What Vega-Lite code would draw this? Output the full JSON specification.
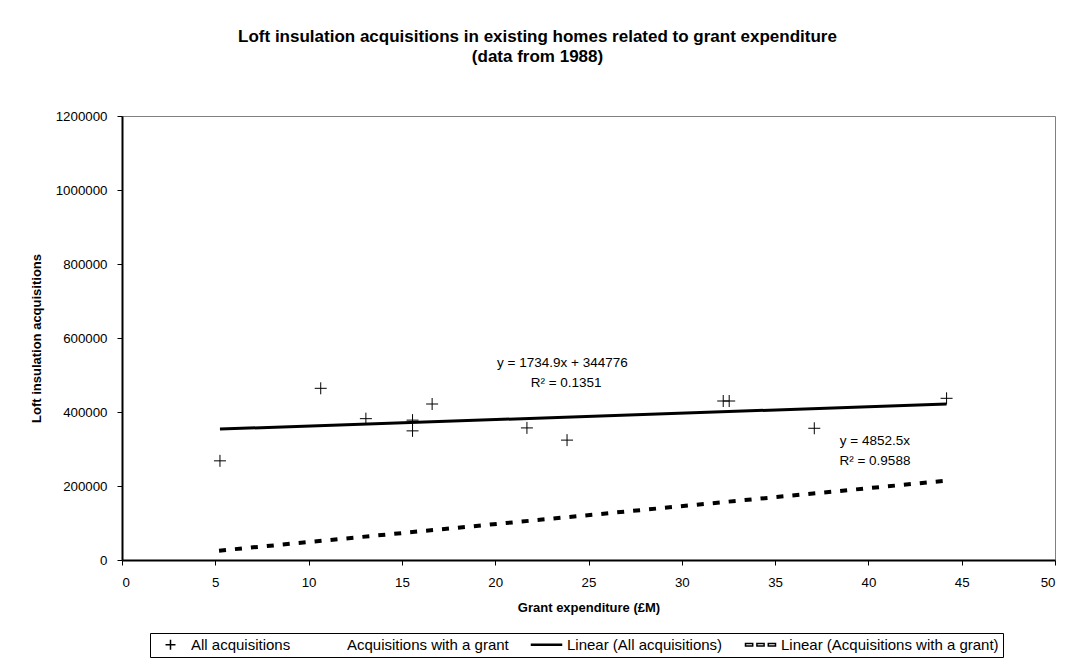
{
  "$schema": "https://vega.github.io/schema/vega-lite/v6.json",
  "width": 933,
  "height": 444,
  "autosize": {"type": "none"},
  "padding": {"left": 122, "top": 116, "right": 18, "bottom": 108},
  "background": "white",
  "config": {
    "font": "Liberation Sans",
    "view": {"stroke": "#808080", "strokeWidth": 1},
    "axis": {
      "domainColor": "black", "domainWidth": 2,
      "tickColor": "black", "tickWidth": 1, "tickSize": 5,
      "labelColor": "black", "labelFontSize": 13.3, "labelFont": "Liberation Sans",
      "titleColor": "black", "titleFontSize": 13, "titleFont": "Liberation Sans", "titleFontWeight": "bold",
      "grid": false
    }
  },
  "title": {
    "text": ["Loft insulation acquisitions in existing homes related to grant expenditure", "(data from 1988)"],
    "fontSize": 17, "fontWeight": "bold", "font": "Liberation Sans", "color": "black",
    "anchor": "middle", "frame": "group", "dx": -51, "offset": 43, "lineHeight": 20
  },
  "datasets": {
    "pts": [
      {"grant": 5.25, "acq": 268000, "series": "All acquisitions"},
      {"grant": 10.65, "acq": 464000, "series": "All acquisitions"},
      {"grant": 13.07, "acq": 382000, "series": "All acquisitions"},
      {"grant": 15.57, "acq": 378000, "series": "All acquisitions"},
      {"grant": 15.57, "acq": 349000, "series": "All acquisitions"},
      {"grant": 16.62, "acq": 421600, "series": "All acquisitions"},
      {"grant": 21.7, "acq": 357000, "series": "All acquisitions"},
      {"grant": 23.85, "acq": 324000, "series": "All acquisitions"},
      {"grant": 32.22, "acq": 429700, "series": "All acquisitions"},
      {"grant": 32.54, "acq": 429700, "series": "All acquisitions"},
      {"grant": 37.1, "acq": 356000, "series": "All acquisitions"},
      {"grant": 44.19, "acq": 437000, "series": "All acquisitions"}
    ],
    "trend": [
      {"grant": 5.25, "acq": 353884, "series": "Linear (All acquisitions)"},
      {"grant": 44.19, "acq": 421440, "series": "Linear (All acquisitions)"},
      {"grant": 5.2, "acq": 25233, "series": "Linear (Acquisitions with a grant)"},
      {"grant": 44.19, "acq": 214432, "series": "Linear (Acquisitions with a grant)"}
    ],
    "notes": [
      {"grant": 23.6, "acq": 532000, "label": "y = 1734.9x + 344776"},
      {"grant": 23.8, "acq": 478000, "label": "R² = 0.1351"},
      {"grant": 40.35, "acq": 321600, "label": "y = 4852.5x"},
      {"grant": 40.35, "acq": 267600, "label": "R² = 0.9588"}
    ]
  },
  "encoding": {
    "x": {
      "field": "grant", "type": "quantitative",
      "scale": {"domain": [0, 50], "nice": false, "zero": false},
      "axis": {"values": [0, 5, 10, 15, 20, 25, 30, 35, 40, 45, 50], "title": "Grant expenditure (£M)", "labelPadding": 10, "titlePadding": 13, "format": "d"}
    },
    "y": {
      "field": "acq", "type": "quantitative",
      "scale": {"domain": [0, 1200000], "nice": false},
      "axis": {"values": [0, 200000, 400000, 600000, 800000, 1000000, 1200000], "format": "d", "title": "Loft insulation acquisitions", "labelPadding": 10, "titlePadding": 12}
    }
  },
  "layer": [
    {
      "data": {"name": "trend"},
      "transform": [{"filter": "datum.series === 'Linear (All acquisitions)'"}],
      "mark": {"type": "line", "color": "black", "strokeWidth": 3}
    },
    {
      "data": {"name": "trend"},
      "transform": [{"filter": "datum.series === 'Linear (Acquisitions with a grant)'"}],
      "mark": {"type": "line", "color": "black", "strokeWidth": 4, "strokeDash": [7, 9]}
    },
    {
      "data": {"name": "pts"},
      "mark": {"type": "point", "filled": false, "stroke": "black", "strokeWidth": 1, "size": 144, "opacity": 1, "shape": "M-1,0L1,0M0,-1L0,1"}
    },
    {
      "data": {"name": "pts"},
      "mark": {"type": "point", "filled": false, "stroke": "black", "strokeWidth": 1, "size": 144, "opacity": 0},
      "encoding": {
        "shape": {
          "field": "series", "type": "nominal",
          "scale": {
            "domain": ["All acquisitions", "Acquisitions with a grant", "Linear (All acquisitions)", "Linear (Acquisitions with a grant)"],
            "range": [
              "M0.67,0L2.33,0M1.5,-0.83L1.5,0.83",
              "M0,0",
              "M-1,-0.1L4,-0.1L4,0.1L-1,0.1Z",
              "M-1,-0.2L0.2,-0.2L0.2,0.2L-1,0.2ZM0.9,-0.2L2.1,-0.2L2.1,0.2L0.9,0.2ZM2.8,-0.2L4,-0.2L4,0.2L2.8,0.2Z"
            ]
          },
          "legend": {
            "title": null, "orient": "none", "direction": "horizontal", "columns": 4,
            "legendX": 28, "legendY": 517,
            "symbolSize": 144, "labelFontSize": 15, "labelFont": "Liberation Sans", "labelColor": "black",
            "columnPadding": 19, "labelOffset": 22, "padding": 4,
            "strokeColor": "black", "fillColor": "white",
            "labelLimit": 400,
            "encode": {"symbols": {"update": {"fill": {"value": "black"}, "stroke": {"value": "black"}, "strokeWidth": {"value": 1}, "opacity": {"value": 1}}}}
          }
        }
      }
    },
    {
      "data": {"name": "notes"},
      "mark": {"type": "text", "align": "center", "baseline": "middle", "fontSize": 13.5, "font": "Liberation Sans", "color": "black"},
      "encoding": {"text": {"field": "label"}}
    }
  ]
}
